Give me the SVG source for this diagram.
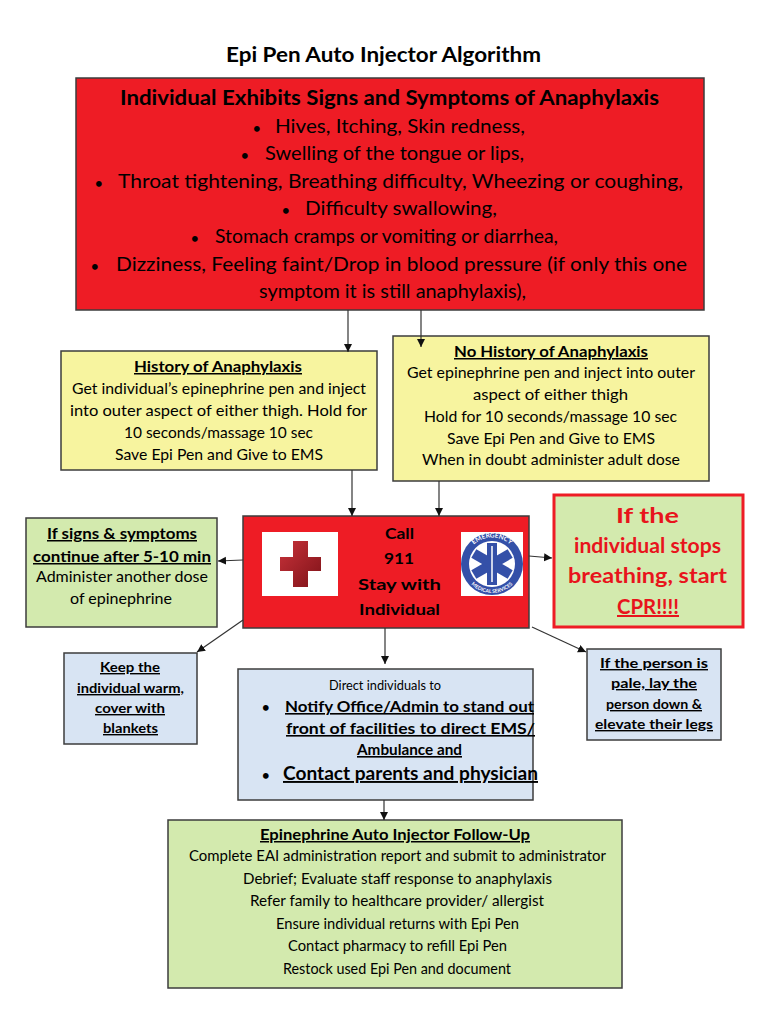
<svg xmlns="http://www.w3.org/2000/svg" width="768" height="1024" viewBox="0 0 768 1024">
<style>
text{font-family:"Lato","Noto Sans",sans-serif;fill:#000;text-anchor:start}
.box{stroke:#3c3c3c;stroke-width:1.5}
.red{fill:#ee1c25}.yel{fill:#f7f49f}.grn{fill:#d3eaae}.blu{fill:#d8e4f3}
.h{font-weight:700}
.s{font-size:15px}.t{font-size:14px}.m{font-size:16px}.l{font-size:20px}
.u{text-decoration:underline}
.b{font-size:13px;font-weight:700}
.alarm{fill:#e8141c;font-size:20px;font-weight:700}
.ems{fill:#fff;font-weight:700;text-anchor:middle}
.conn{fill:none;stroke:#333;stroke-width:1.2;marker-end:url(#a)}
</style>
<defs>
<marker id="a" markerWidth="10" markerHeight="10" refX="8" refY="4" orient="auto" markerUnits="userSpaceOnUse"><path d="M0,0L8,4L0,8Z" fill="#111"/></marker>
<linearGradient id="cr" x1="0" y1="0" x2="1" y2="1"><stop offset="0" stop-color="#c8323a"/><stop offset="1" stop-color="#7e1218"/></linearGradient>
<path id="top" d="M465.500,564A26.500,26.500 0 0 1 518.500,564"/>
<path id="bot" d="M463,564A29,29 0 0 0 521,564"/>
</defs>
<text class="h" x="226" y="62" font-size="20" textLength="315" lengthAdjust="spacingAndGlyphs">Epi Pen Auto Injector Algorithm</text>

<g id="signs">
<rect class="box red" x="76" y="78" width="628" height="232"/>
<text class="h l" x="120" y="105" textLength="539" lengthAdjust="spacingAndGlyphs">Individual Exhibits Signs and Symptoms of Anaphylaxis</text>
<text class="b" x="253" y="133">•</text><text class="l" x="275" y="133" textLength="250" lengthAdjust="spacingAndGlyphs">Hives, Itching, Skin redness,</text>
<text class="b" x="241" y="160">•</text><text class="l" x="265" y="160" textLength="259" lengthAdjust="spacingAndGlyphs">Swelling of the tongue or lips,</text>
<text class="b" x="95" y="188">•</text><text class="l" x="118" y="188" textLength="565" lengthAdjust="spacingAndGlyphs">Throat tightening, Breathing difficulty, Wheezing or coughing,</text>
<text class="b" x="282" y="215">•</text><text class="l" x="305" y="215" textLength="192" lengthAdjust="spacingAndGlyphs">Difficulty swallowing,</text>
<text class="b" x="191" y="243">•</text><text class="l" x="215" y="243" textLength="343" lengthAdjust="spacingAndGlyphs">Stomach cramps or vomiting or diarrhea,</text>
<text class="b" x="91" y="271">•</text><text class="l" x="116" y="271" textLength="571" lengthAdjust="spacingAndGlyphs">Dizziness, Feeling faint/Drop in blood pressure (if only this one</text>
<text class="l" x="259" y="298" textLength="267" lengthAdjust="spacingAndGlyphs">symptom it is still anaphylaxis),</text>
</g>

<g id="history">
<rect class="box yel" x="61" y="351" width="316" height="119"/>
<text class="h s u" x="134" y="372" textLength="168" lengthAdjust="spacingAndGlyphs">History of Anaphylaxis</text>
<text class="s" x="72" y="394" textLength="294" lengthAdjust="spacingAndGlyphs">Get individual’s epinephrine pen and inject</text>
<text class="s" x="70" y="416" textLength="297" lengthAdjust="spacingAndGlyphs">into outer aspect of either thigh. Hold for</text>
<text class="s" x="124" y="438" textLength="189" lengthAdjust="spacingAndGlyphs">10 seconds/massage 10 sec</text>
<text class="s" x="115" y="460" textLength="208" lengthAdjust="spacingAndGlyphs">Save Epi Pen and Give to EMS</text>
</g>

<g id="no-history">
<rect class="box yel" x="393" y="336" width="316" height="145"/>
<text class="h s u" x="454" y="357" textLength="194" lengthAdjust="spacingAndGlyphs">No History of Anaphylaxis</text>
<text class="s" x="407" y="378" textLength="288" lengthAdjust="spacingAndGlyphs">Get epinephrine pen and inject into outer</text>
<text class="s" x="473" y="400" textLength="155" lengthAdjust="spacingAndGlyphs">aspect of either thigh</text>
<text class="s" x="424" y="422" textLength="253" lengthAdjust="spacingAndGlyphs">Hold for 10 seconds/massage 10 sec</text>
<text class="s" x="447" y="444" textLength="208" lengthAdjust="spacingAndGlyphs">Save Epi Pen and Give to EMS</text>
<text class="s" x="422" y="465" textLength="258" lengthAdjust="spacingAndGlyphs">When in doubt administer adult dose</text>
</g>

<g id="call">
<rect class="box red" x="243" y="516" width="286" height="112"/>
<rect x="262" y="532" width="76" height="64" fill="#fff"/>
<path d="M293,541h15v16h13v14h-13v16h-15v-16h-13v-14h13z" fill="url(#cr)"/>
<rect x="461" y="532" width="62" height="64" fill="#fff"/>
<circle cx="492" cy="564" r="31" fill="#3450a8"/>
<circle cx="492" cy="564" r="23" fill="#fff"/>
<g fill="#3450a8">
<rect x="487" y="543" width="10" height="42"/>
<rect x="487" y="543" width="10" height="42" transform="rotate(60 492 564)"/>
<rect x="487" y="543" width="10" height="42" transform="rotate(120 492 564)"/>
</g>
<path d="M492,546V582" stroke="#fff" stroke-width="1.5"/>
<text class="ems" font-size="6.500"><textPath href="#top" startOffset="50%">EMERGENCY</textPath></text>
<text class="ems" font-size="5"><textPath href="#bot" startOffset="50%">MEDICAL SERVICES</textPath></text>
<text class="h m" x="385" y="539" textLength="29" lengthAdjust="spacingAndGlyphs">Call</text>
<text class="h m" x="384" y="564" textLength="30" lengthAdjust="spacingAndGlyphs">911</text>
<text class="h m" x="358" y="590" textLength="83" lengthAdjust="spacingAndGlyphs">Stay with</text>
<text class="h m" x="359" y="615" textLength="81" lengthAdjust="spacingAndGlyphs">Individual</text>
</g>

<g id="another-dose">
<rect class="box grn" x="26" y="518" width="191" height="109"/>
<text class="h s u" x="47" y="539" textLength="150" lengthAdjust="spacingAndGlyphs">If signs &amp; symptoms</text>
<text class="h s u" x="33" y="562" textLength="178" lengthAdjust="spacingAndGlyphs">continue after 5-10 min</text>
<text class="s" x="36" y="582" textLength="172" lengthAdjust="spacingAndGlyphs">Administer another dose</text>
<text class="s" x="70" y="604" textLength="102" lengthAdjust="spacingAndGlyphs">of epinephrine</text>
</g>

<g id="cpr">
<rect class="grn" x="554" y="495" width="189" height="132" stroke="#ee1c25" stroke-width="3"/>
<text class="alarm" x="616" y="523" textLength="63" lengthAdjust="spacingAndGlyphs">If the</text>
<text class="alarm" x="574" y="553" textLength="147" lengthAdjust="spacingAndGlyphs">individual stops</text>
<text class="alarm" x="568" y="583" textLength="159" lengthAdjust="spacingAndGlyphs">breathing, start</text>
<text class="alarm u" x="617" y="614" textLength="62" lengthAdjust="spacingAndGlyphs">CPR!!!!</text>
</g>

<g id="warm">
<rect class="box blu" x="64" y="653" width="133" height="91"/>
<text class="h t u" x="100" y="672" textLength="60" lengthAdjust="spacingAndGlyphs">Keep the</text>
<text class="h t u" x="77" y="693" textLength="107" lengthAdjust="spacingAndGlyphs">individual warm,</text>
<text class="h t u" x="95" y="713" textLength="70" lengthAdjust="spacingAndGlyphs">cover with</text>
<text class="h t u" x="103" y="733" textLength="55" lengthAdjust="spacingAndGlyphs">blankets</text>
</g>

<g id="direct">
<rect class="box blu" x="238" y="669" width="295" height="131"/>
<text class="t" x="329" y="690" textLength="112" lengthAdjust="spacingAndGlyphs">Direct individuals to</text>
<text class="b" x="262" y="712">•</text>
<text class="h m u" x="285" y="712" textLength="249" lengthAdjust="spacingAndGlyphs">Notify Office/Admin to stand out</text>
<text class="h m u" x="286" y="734" textLength="249" lengthAdjust="spacingAndGlyphs">front of facilities to direct EMS/</text>
<text class="h m u" x="357" y="755" textLength="105" lengthAdjust="spacingAndGlyphs">Ambulance and</text>
<text class="b" x="262" y="780">•</text>
<text class="h u" font-size="19" x="283" y="780" textLength="255" lengthAdjust="spacingAndGlyphs">Contact parents and physician</text>
</g>

<g id="pale">
<rect class="box blu" x="587" y="649" width="134" height="91"/>
<text class="h t u" x="600" y="668" textLength="108" lengthAdjust="spacingAndGlyphs">If the person is</text>
<text class="h t u" x="611" y="688" textLength="86" lengthAdjust="spacingAndGlyphs">pale, lay the</text>
<text class="h t u" x="606" y="709" textLength="96" lengthAdjust="spacingAndGlyphs">person down &amp;</text>
<text class="h t u" x="595" y="729" textLength="118" lengthAdjust="spacingAndGlyphs">elevate their legs</text>
</g>

<g id="follow-up">
<rect class="box grn" x="168" y="820" width="454" height="168"/>
<text class="h s u" x="260" y="840" textLength="270" lengthAdjust="spacingAndGlyphs">Epinephrine Auto Injector Follow-Up</text>
<text class="s" x="189" y="861" textLength="417" lengthAdjust="spacingAndGlyphs">Complete EAI administration report and submit to administrator</text>
<text class="s" x="243" y="884" textLength="309" lengthAdjust="spacingAndGlyphs">Debrief; Evaluate staff response to anaphylaxis</text>
<text class="s" x="250" y="906" textLength="294" lengthAdjust="spacingAndGlyphs">Refer family to healthcare provider/ allergist</text>
<text class="s" x="276" y="929" textLength="243" lengthAdjust="spacingAndGlyphs">Ensure individual returns with Epi Pen</text>
<text class="s" x="288" y="951" textLength="219" lengthAdjust="spacingAndGlyphs">Contact pharmacy to refill Epi Pen</text>
<text class="s" x="283" y="974" textLength="228" lengthAdjust="spacingAndGlyphs">Restock used Epi Pen and document</text>
</g>

<g id="connectors">
<path class="conn" d="M348,310V352"/>
<path class="conn" d="M421,310V347"/>
<path class="conn" d="M352,470V516"/>
<path class="conn" d="M439,481V516"/>
<path class="conn" d="M243,560L218,561"/>
<path class="conn" d="M529,556L552,558"/>
<path class="conn" d="M243,620L197,652"/>
<path class="conn" d="M385,628V664"/>
<path class="conn" d="M532,627L586,652"/>
<path class="conn" d="M384,800V820"/>
</g>
</svg>
